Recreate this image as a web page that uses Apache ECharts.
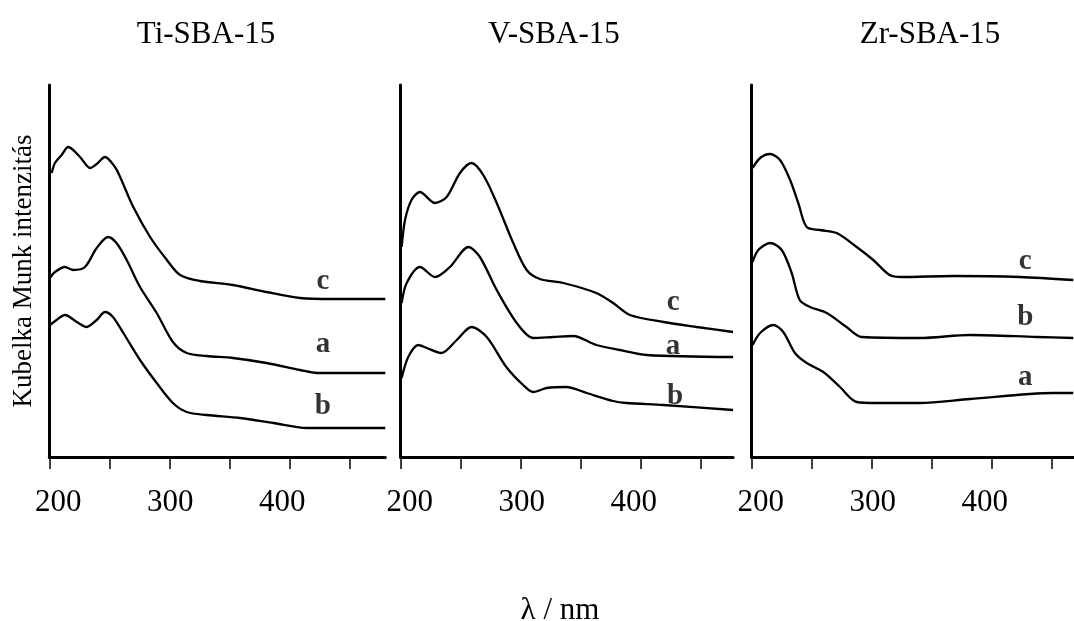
<!DOCTYPE html>
<html>
<head>
<meta charset="utf-8">
<script src="https://cdn.jsdelivr.net/npm/echarts@6/dist/echarts.min.js"></script>
<style>
  html, body { margin: 0; padding: 0; background: #fff; }
  #chart { width: 1074px; height: 621px; }
</style>
</head>
<body>
<div id="chart"></div>
<script>
// Diffuse-reflectance UV-Vis spectra of metal-substituted SBA-15 samples.
// x: wavelength (nm), y: Kubelka-Munk intensity (arbitrary units, curves offset).

const panelTitles = ['Ti-SBA-15', 'V-SBA-15', 'Zr-SBA-15'];
const xTickValues = [200, 250, 300, 350, 400, 450];
const xLabelValues = [200, 300, 400];

// Ti-SBA-15
const tiC = [[202,284],[204.7,294],[210.3,302],[215.8,310],[225.6,300],[234,289],[239.5,293],[246.4,300],[254.7,290],[259,280],[270,250],[284,220],[298,197],[309,182],[325.6,176],[353,172],[381,165],[409,159],[436,158],[480,158]];
const tiA = [[200.6,179],[204.7,185],[213,190],[220,187],[229.7,190],[239.5,209],[249,220],[256,214],[264.5,197],[275.6,170],[289.5,144],[303,115],[314.5,104],[331,101],[353,99],[381,94],[409,87],[423,84],[480,84]];
const tiB = [[200.6,132],[206,137],[213,142],[223,135],[231,130],[239.5,137],[246.4,145],[253,140],[261.7,124],[275.6,97],[289.5,74],[303,54],[314.5,45],[331,42],[359,39],[386.7,34],[414.5,29],[480,29]];

// V-SBA-15
const vC = [[200.8,210],[203.6,237],[209,257],[216,265],[228.6,254],[238.3,260],[249.4,284],[259,294],[268.8,282],[280,254],[293.8,214],[305,187],[316,178],[335.5,174],[363,164],[377,154],[391,142],[419,135],[446.7,130],[477,125]];
const vA = [[200.8,154],[205,174],[216,190],[228.6,180],[241,190],[256.4,210],[266,200],[280,167],[296.7,134],[310.5,119],[327,120],[343.8,121],[363,112],[382.7,107],[405,102],[477,100]];
const vB = [[200.8,79],[206.3,100],[214.7,112],[221.7,109],[234,104],[246.7,117],[259,130],[271.7,120],[288,90],[302,72],[310.5,65],[321.7,69],[338,70],[355,64],[377,56],[388,54],[419,52],[477,47]];

// Zr-SBA-15
const zrC = [[200.8,289],[207,299],[215.3,303],[223.6,297],[232,277],[238.8,254],[245.8,230],[257,227],[270.8,224],[287.5,210],[301.3,197],[315,182],[325,180],[368,181],[423.6,180],[468,177]];
const zrB = [[200.8,195],[205.5,207],[215.3,214],[225,207],[233.3,184],[240,157],[248.6,150],[262.5,144],[279,130],[291.7,120],[340,119],[382,122],[437.5,120],[468,119]];
const zrA = [[200.8,112],[207,124],[218,132],[226.3,125],[236,104],[245.8,94],[259.7,85],[273.6,70],[287.5,55],[304,54],[340,54],[382,58],[451,64],[468,64]];

// sample letters and where they sit (wavelength, intensity)
const tiTags = [['c', 428, 175], ['a', 428, 112], ['b', 428, 50]];
const vTags = [['c', 427, 154], ['a', 427, 110], ['b', 428.6, 60]];
const zrTags = [['c', 428, 195], ['b', 428, 139], ['a', 428, 79]];

const panelSeries = [
  { curves: [tiC, tiA, tiB], tags: tiTags, xMax: 480 },
  { curves: [vC, vA, vB], tags: vTags, xMax: 477 },
  { curves: [zrC, zrB, zrA], tags: zrTags, xMax: 468 }
];

const serif = '"Liberation Serif", "Times New Roman", serif';
const panelLeft = [49.3, 400.7, 751.7];
const pxPerNm = 1.2;
const plotTop = 85, plotHeight = 372;

const grids = [], xAxes = [], yAxes = [], series = [], titles = [];

panelSeries.forEach((p, i) => {
  grids.push({
    left: panelLeft[i], top: plotTop,
    width: (p.xMax - 200) * pxPerNm, height: plotHeight,
    containLabel: false
  });
  const labelStyle = { fontSize: 31, fontFamily: serif, color: '#000' };
  xAxes.push({
    type: 'value', gridIndex: i, min: 200, max: p.xMax,
    axisLine: { show: true, onZero: false, lineStyle: { color: '#000', width: 3 } },
    axisTick: { show: true, inside: false, length: 12, customValues: xTickValues,
                lineStyle: { color: '#000', width: 1.5 } },
    axisLabel: {
      customValues: xLabelValues, margin: 30,
      fontSize: 31, fontFamily: serif, color: '#000',
      formatter: v => v === 200 ? '{s|200}' : (v === 400 ? '{e|400}' : '{m|' + v + '}'),
      rich: {
        s: Object.assign({ padding: [0, 0, 0, 18] }, labelStyle),
        m: Object.assign({ padding: [0, 0, 0, 2] }, labelStyle),
        e: Object.assign({ padding: [0, 14, 0, 0] }, labelStyle)
      }
    },
    splitLine: { show: false }
  });
  yAxes.push({
    type: 'value', gridIndex: i, min: 0, max: 372,
    name: i === 0 ? 'Kubelka Munk intenzitás' : '',
    nameLocation: 'middle', nameGap: 12,
    nameTextStyle: { fontSize: 27, fontFamily: serif, color: '#000' },
    axisLine: { show: true, lineStyle: { color: '#000', width: 3 } },
    axisTick: { show: false }, axisLabel: { show: false }, splitLine: { show: false }
  });
  p.curves.forEach(c => {
    series.push({
      type: 'line', xAxisIndex: i, yAxisIndex: i, data: c,
      showSymbol: false, smooth: 0.3, animation: false,
      lineStyle: { color: '#000', width: 2.3 }
    });
  });
  series.push({
    type: 'scatter', xAxisIndex: i, yAxisIndex: i, symbolSize: 0, animation: false,
    data: p.tags.map(t => ({ name: t[0], value: [t[1], t[2]] })),
    label: { show: true, position: 'inside', formatter: d => d.name,
             fontSize: 29, fontWeight: 'bold', fontFamily: serif, color: '#000' }
  });
});

const titleCenters = [201, 549, 925];
panelTitles.forEach((t, i) => {
  titles.push({
    text: t, left: titleCenters[i], top: 14, textAlign: 'center',
    textStyle: { fontSize: 31, fontWeight: 'normal', fontFamily: serif, color: '#000' }
  });
});
titles.push({
  text: 'λ / nm', left: 555, top: 590, textAlign: 'center',
  textStyle: { fontSize: 31, fontWeight: 'normal', fontFamily: serif, color: '#000' }
});

const chart = echarts.init(document.getElementById('chart'), null, { renderer: 'canvas' });
chart.setOption({
  backgroundColor: '#fff',
  animation: false,
  title: titles,
  grid: grids,
  xAxis: xAxes,
  yAxis: yAxes,
  series: series
});
</script>
</body>
</html>
